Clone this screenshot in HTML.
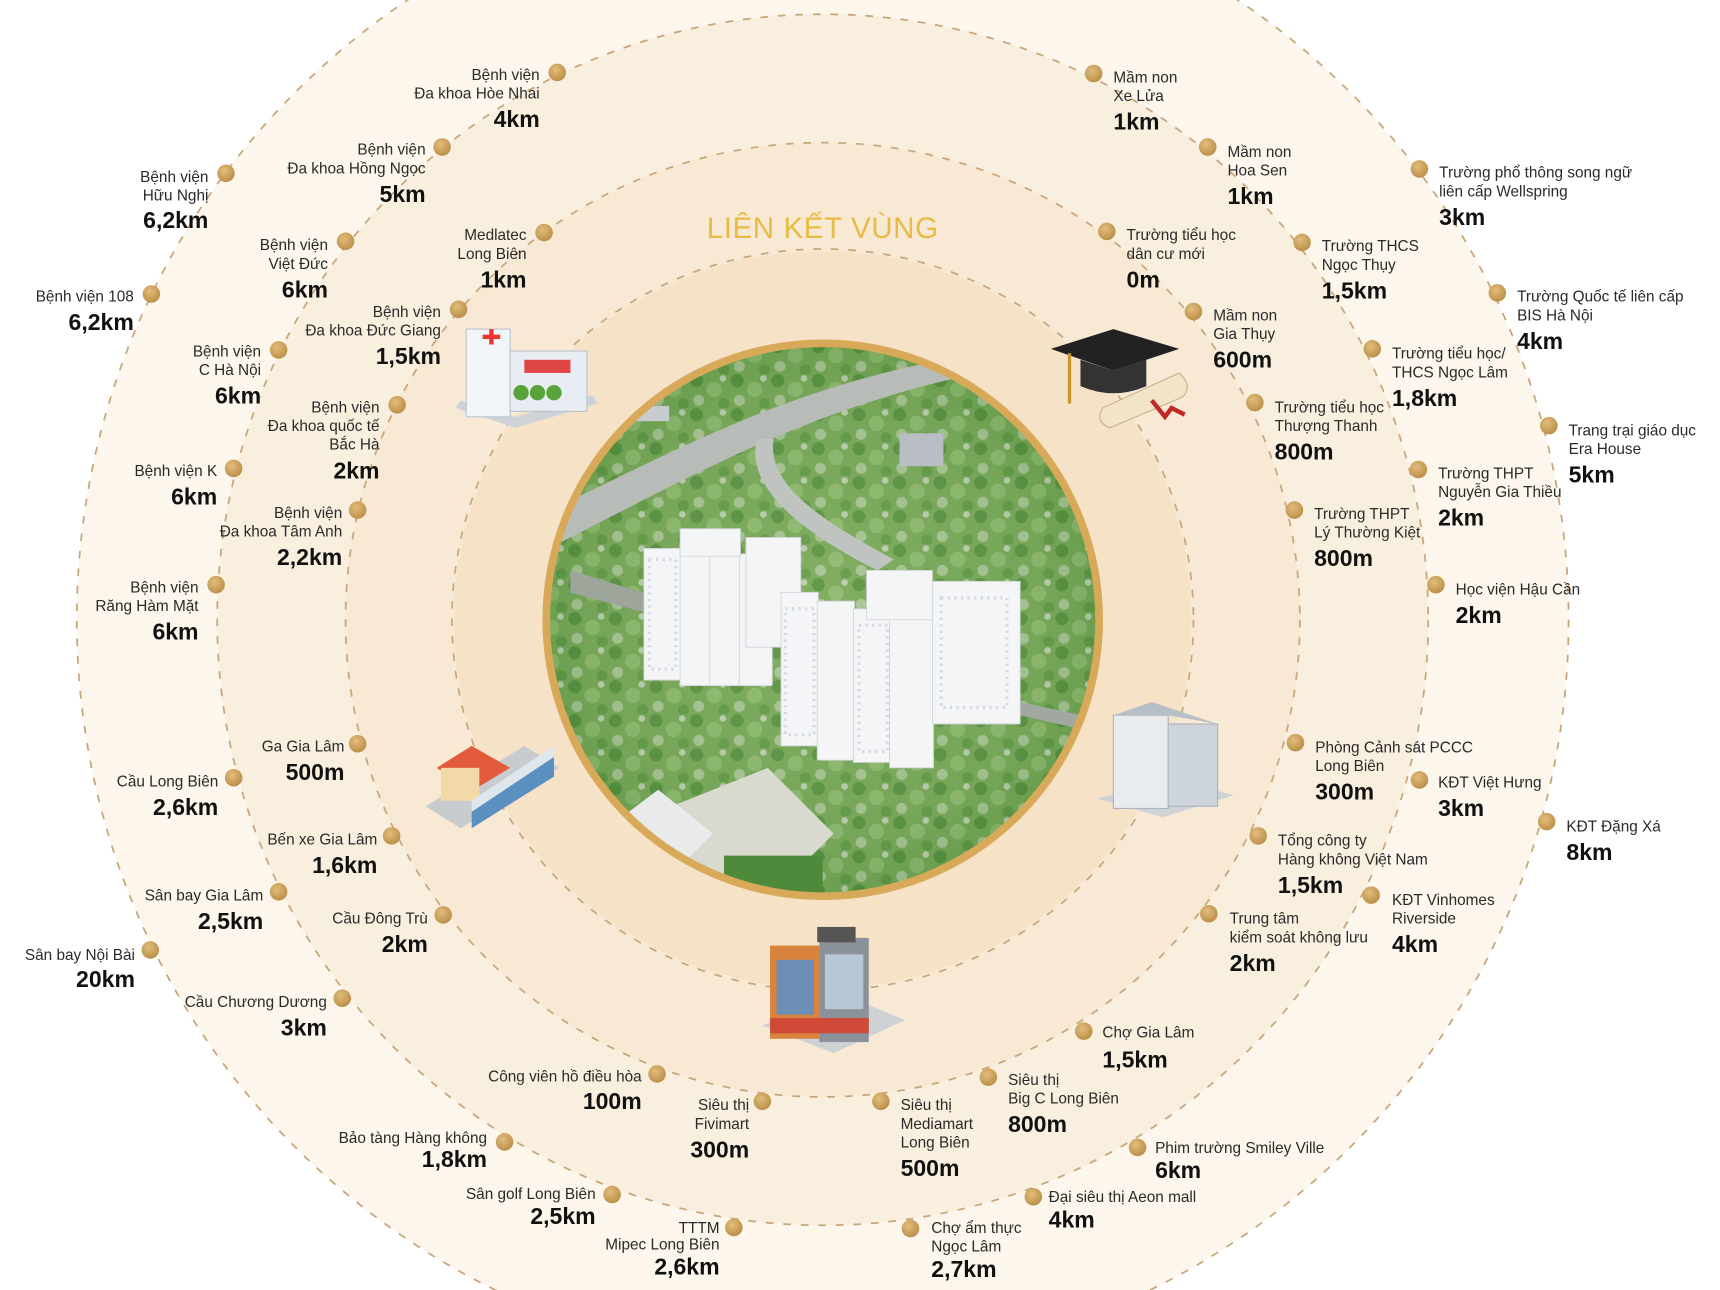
<!DOCTYPE html>
<html><head><meta charset="utf-8">
<style>
html,body{margin:0;padding:0;background:#fff;width:1720px;height:1290px;overflow:hidden;}
svg{display:block;}
.t{font-family:"Liberation Sans",sans-serif;font-size:14px;fill:#2a2a2a;}
.b{font-family:"Liberation Sans",sans-serif;font-size:21px;font-weight:bold;fill:#111;}
.l .t,.l .b{text-anchor:end;}
</style></head>
<body>
<svg width="1720" height="1290" viewBox="0 0 1568 1176" xmlns="http://www.w3.org/2000/svg">
<defs>
<radialGradient id="dg" cx="0.4" cy="0.35" r="0.7"><stop offset="0" stop-color="#e2bd7c"/><stop offset="1" stop-color="#b98c45"/></radialGradient>
<radialGradient id="pg" cx="0.5" cy="0.5" r="0.5"><stop offset="0" stop-color="#8fb870"/><stop offset="0.8" stop-color="#6f9f55"/><stop offset="1" stop-color="#4f8a3c"/></radialGradient>
<pattern id="trees" width="37" height="31" patternUnits="userSpaceOnUse">
<rect width="37" height="31" fill="#7aa95a"/>
<circle cx="6" cy="6" r="6" fill="#4c8838"/><circle cx="22" cy="14" r="7" fill="#9bc27b"/><circle cx="8" cy="24" r="5" fill="#c3d3b4"/>
<circle cx="31" cy="27" r="5" fill="#5a9441"/><circle cx="30" cy="4" r="3" fill="#dfe3de"/>
</pattern>
<clipPath id="cc"><circle cx="750" cy="565" r="250"/></clipPath>
</defs>
<rect width="1568" height="1176" fill="#fff"/>
<circle cx="750" cy="565" r="680" fill="#fcf6ec"/>
<circle cx="750" cy="565" r="552" fill="#f9efdf"/>
<circle cx="750" cy="565" r="435" fill="#f7e9d4"/>
<circle cx="750" cy="565" r="336" fill="#f5e2c7"/>
<g fill="none" stroke="#c9a67a" stroke-width="1.6" stroke-dasharray="7 9">
<circle cx="750" cy="565" r="680"/><circle cx="750" cy="565" r="552"/>
<circle cx="750" cy="565" r="435"/><circle cx="750" cy="565" r="338"/>
</g>
<text x="750" y="217" text-anchor="middle" font-family="Liberation Sans,sans-serif" font-size="27" fill="#e9bb45" letter-spacing="0.5">LIÊN KẾT VÙNG</text>

<g clip-path="url(#cc)">
<rect x="490" y="305" width="520" height="520" fill="url(#trees)"/>
<rect x="490" y="305" width="520" height="520" fill="url(#pg)" opacity="0.4"/>
<path d="M490 470 C600 420 700 360 850 330 L870 345 C720 380 620 440 500 500Z" fill="#b8bcb8"/>
<path d="M690 400 C680 440 720 480 800 520 L815 510 C740 470 700 440 705 400Z" fill="#c0c4c0"/>
<rect x="560" y="370" width="50" height="14" fill="#c8ccd0"/>
<rect x="820" y="395" width="40" height="30" fill="#b8bec4"/>
<path d="M520 520 L650 560 L650 575 L520 540Z" fill="#9ea59b"/>
<path d="M930 640 L1000 655 L1000 668 L930 652Z" fill="#a0a8a0"/>
<path d="M600 740 L700 700 L760 760 L700 820 L560 800Z" fill="#d8dad0"/>
<path d="M560 750 L600 720 L650 760 L620 790Z" fill="#e8ebea"/>
<g fill="#f4f5f7" stroke="#d0d4d8" stroke-width="0.8">
<rect x="587" y="500" width="34" height="120"/><rect x="620" y="495" width="28" height="130"/>
<rect x="647" y="500" width="28" height="125"/><rect x="674" y="505" width="30" height="120"/>
<rect x="620" y="482" width="55" height="25"/><rect x="680" y="490" width="50" height="100"/>
<rect x="712" y="540" width="34" height="140"/><rect x="745" y="548" width="34" height="145"/>
<rect x="778" y="555" width="34" height="140"/><rect x="811" y="560" width="40" height="140"/>
<rect x="790" y="520" width="60" height="45"/><rect x="850" y="530" width="80" height="130"/>
</g>
<g opacity="0.7">
<rect x="592" y="510" width="24" height="100" fill="none" stroke="#c8ced5" stroke-dasharray="2 4" stroke-width="3"/>
<rect x="716" y="555" width="26" height="115" fill="none" stroke="#c8ced5" stroke-dasharray="2 4" stroke-width="3"/>
<rect x="783" y="570" width="26" height="115" fill="none" stroke="#c8ced5" stroke-dasharray="2 4" stroke-width="3"/>
<rect x="858" y="545" width="60" height="100" fill="none" stroke="#c8ced5" stroke-dasharray="2 4" stroke-width="3"/>
</g>
<rect x="660" y="780" width="90" height="50" fill="#4f8a3c"/>
</g>
<circle cx="750" cy="565" r="252" fill="none" stroke="#d9a95a" stroke-width="7"/>

<g>
<path d="M415 372 L470 390 L545 368 L540 360 L470 380 L420 365Z" fill="#cfd3d8"/>
<rect x="425" y="300" width="40" height="80" fill="#f2f5f8" stroke="#b9c3cd"/>
<rect x="465" y="320" width="70" height="55" fill="#e7edf3" stroke="#b9c3cd"/>
<rect x="478" y="328" width="42" height="12" fill="#e04545"/>
<path d="M440 305 h6 v-5 h4 v5 h6 v4 h-6 v5 h-4 v-5 h-6z" fill="#e33"/>
<circle cx="475" cy="358" r="7" fill="#5aa33c"/><circle cx="490" cy="358" r="7" fill="#5aa33c"/><circle cx="505" cy="358" r="7" fill="#5aa33c"/>
</g>
<g>
<path d="M958 318 L1015 300 L1075 318 L1015 338Z" fill="#222"/>
<path d="M985 328 L985 352 Q1015 365 1045 352 L1045 328 L1015 338Z" fill="#333"/>
<path d="M975 322 L975 368" stroke="#c9962a" stroke-width="3"/>
<path d="M1005 372 L1075 340 Q1088 352 1078 362 L1012 390 Q998 385 1005 372Z" fill="#f1e4c8" stroke="#c8b08a"/>
<path d="M1050 365 L1062 380 L1068 372 L1080 378" stroke="#c0282a" stroke-width="4" fill="none"/>
</g>
<g>
<path d="M388 735 L420 755 L510 700 L478 680Z" fill="#c9ccce"/>
<path d="M398 700 L430 680 L465 700 L432 720Z" fill="#e25b3d"/>
<rect x="402" y="700" width="35" height="30" fill="#f4d9a8"/>
<path d="M430 740 L505 690 L505 708 L430 755Z" fill="#5b8fc0"/>
<path d="M430 730 L505 680 L505 690 L430 740Z" fill="#dfe6ee"/>
</g>
<g>
<path d="M1000 728 L1060 745 L1125 725 L1070 710Z" fill="#cfd3d6"/>
<rect x="1015" y="652" width="50" height="85" fill="#e8ecef" stroke="#aab3bb"/>
<rect x="1065" y="660" width="45" height="75" fill="#cdd4db" stroke="#aab3bb"/>
<path d="M1015 652 L1050 640 L1110 660 L1065 652Z" fill="#b6bec6"/>
</g>
<g>
<path d="M695 935 L760 960 L825 930 L765 905Z" fill="#cfd2d4"/>
<rect x="702" y="862" width="45" height="85" fill="#d8833e"/>
<rect x="747" y="855" width="45" height="95" fill="#8a9198"/>
<rect x="745" y="845" width="35" height="14" fill="#555"/>
<rect x="708" y="875" width="34" height="50" fill="#6d8fb5"/>
<rect x="752" y="870" width="35" height="50" fill="#b8c7d6"/>
<rect x="702" y="928" width="90" height="14" fill="#d04a3a"/>
</g>

<g fill="url(#dg)">
<circle cx="508" cy="66" r="8"/><circle cx="403" cy="134" r="8"/><circle cx="206" cy="158" r="8"/>
<circle cx="496" cy="212" r="8"/><circle cx="315" cy="220" r="8"/><circle cx="138" cy="268" r="8"/>
<circle cx="418" cy="282" r="8"/><circle cx="254" cy="319" r="8"/><circle cx="362" cy="369" r="8"/>
<circle cx="213" cy="427" r="8"/><circle cx="326" cy="465" r="8"/><circle cx="197" cy="533" r="8"/>
<circle cx="326" cy="678" r="8"/><circle cx="213" cy="709" r="8"/><circle cx="357" cy="762" r="8"/>
<circle cx="254" cy="813" r="8"/><circle cx="404" cy="834" r="8"/><circle cx="137" cy="866" r="8"/>
<circle cx="312" cy="910" r="8"/><circle cx="599" cy="979" r="8"/><circle cx="460" cy="1041" r="8"/>
<circle cx="558" cy="1089" r="8"/><circle cx="669" cy="1119" r="8"/><circle cx="695" cy="1004" r="8"/>
<circle cx="997" cy="67" r="8"/><circle cx="1101" cy="134" r="8"/><circle cx="1294" cy="154" r="8"/>
<circle cx="1009" cy="211" r="8"/><circle cx="1187" cy="221" r="8"/><circle cx="1365" cy="267" r="8"/>
<circle cx="1088" cy="284" r="8"/><circle cx="1251" cy="318" r="8"/><circle cx="1144" cy="367" r="8"/>
<circle cx="1412" cy="388" r="8"/><circle cx="1293" cy="428" r="8"/><circle cx="1180" cy="465" r="8"/>
<circle cx="1309" cy="533" r="8"/><circle cx="1181" cy="677" r="8"/><circle cx="1294" cy="711" r="8"/>
<circle cx="1410" cy="749" r="8"/><circle cx="1147" cy="762" r="8"/><circle cx="1250" cy="816" r="8"/>
<circle cx="1102" cy="833" r="8"/><circle cx="988" cy="940" r="8"/><circle cx="901" cy="982" r="8"/>
<circle cx="803" cy="1004" r="8"/><circle cx="1037" cy="1046" r="8"/><circle cx="942" cy="1091" r="8"/>
<circle cx="830" cy="1120" r="8"/>
</g>

<g class="l">
<text class="t" x="492" y="73">Bệnh viện</text><text class="t" x="492" y="90">Đa khoa Hòe Nhai</text><text class="b" x="492" y="116">4km</text>
<text class="t" x="388" y="141">Bệnh viện</text><text class="t" x="388" y="158">Đa khoa Hồng Ngọc</text><text class="b" x="388" y="184">5km</text>
<text class="t" x="190" y="166">Bệnh viện</text><text class="t" x="190" y="183">Hữu Nghị</text><text class="b" x="190" y="208">6,2km</text>
<text class="t" x="480" y="219">Medlatec</text><text class="t" x="480" y="236">Long Biên</text><text class="b" x="480" y="262">1km</text>
<text class="t" x="299" y="228">Bệnh viện</text><text class="t" x="299" y="245">Việt Đức</text><text class="b" x="299" y="271">6km</text>
<text class="t" x="122" y="275">Bệnh viện 108</text><text class="b" x="122" y="301">6,2km</text>
<text class="t" x="402" y="289">Bệnh viện</text><text class="t" x="402" y="306">Đa khoa Đức Giang</text><text class="b" x="402" y="332">1,5km</text>
<text class="t" x="238" y="325">Bệnh viện</text><text class="t" x="238" y="342">C Hà Nội</text><text class="b" x="238" y="368">6km</text>
<text class="t" x="346" y="376">Bệnh viện</text><text class="t" x="346" y="393">Đa khoa quốc tế</text><text class="t" x="346" y="410">Bắc Hà</text><text class="b" x="346" y="436">2km</text>
<text class="t" x="198" y="434">Bệnh viện K</text><text class="b" x="198" y="460">6km</text>
<text class="t" x="312" y="472">Bệnh viện</text><text class="t" x="312" y="489">Đa khoa Tâm Anh</text><text class="b" x="312" y="515">2,2km</text>
<text class="t" x="181" y="540">Bệnh viện</text><text class="t" x="181" y="557">Răng Hàm Mặt</text><text class="b" x="181" y="583">6km</text>
<text class="t" x="314" y="685">Ga Gia Lâm</text><text class="b" x="314" y="711">500m</text>
<text class="t" x="199" y="717">Cầu Long Biên</text><text class="b" x="199" y="743">2,6km</text>
<text class="t" x="344" y="770">Bến xe Gia Lâm</text><text class="b" x="344" y="796">1,6km</text>
<text class="t" x="240" y="821">Sân bay Gia Lâm</text><text class="b" x="240" y="847">2,5km</text>
<text class="t" x="390" y="842">Cầu Đông Trù</text><text class="b" x="390" y="868">2km</text>
<text class="t" x="123" y="875">Sân bay Nội Bài</text><text class="b" x="123" y="900">20km</text>
<text class="t" x="298" y="918">Cầu Chương Dương</text><text class="b" x="298" y="944">3km</text>
<text class="t" x="585" y="986">Công viên hồ điều hòa</text><text class="b" x="585" y="1011">100m</text>
<text class="t" x="444" y="1042">Bảo tàng Hàng không</text><text class="b" x="444" y="1064">1,8km</text>
<text class="t" x="543" y="1093">Sân golf Long Biên</text><text class="b" x="543" y="1116">2,5km</text>
<text class="t" x="656" y="1124">TTTM</text><text class="t" x="656" y="1139">Mipec Long Biên</text><text class="b" x="656" y="1162">2,6km</text>
<text class="t" x="683" y="1012">Siêu thị</text><text class="t" x="683" y="1029">Fivimart</text><text class="b" x="683" y="1055">300m</text>
</g>
<g>
<text class="t" x="1015" y="75">Mầm non</text><text class="t" x="1015" y="92">Xe Lửa</text><text class="b" x="1015" y="118">1km</text>
<text class="t" x="1119" y="143">Mầm non</text><text class="t" x="1119" y="160">Hoa Sen</text><text class="b" x="1119" y="186">1km</text>
<text class="t" x="1312" y="162">Trường phổ thông song ngữ</text><text class="t" x="1312" y="179">liên cấp Wellspring</text><text class="b" x="1312" y="205">3km</text>
<text class="t" x="1027" y="219">Trường tiểu học</text><text class="t" x="1027" y="236">dân cư mới</text><text class="b" x="1027" y="262">0m</text>
<text class="t" x="1205" y="229">Trường THCS</text><text class="t" x="1205" y="246">Ngọc Thụy</text><text class="b" x="1205" y="272">1,5km</text>
<text class="t" x="1383" y="275">Trường Quốc tế liên cấp</text><text class="t" x="1383" y="292">BIS Hà Nội</text><text class="b" x="1383" y="318">4km</text>
<text class="t" x="1106" y="292">Mầm non</text><text class="t" x="1106" y="309">Gia Thụy</text><text class="b" x="1106" y="335">600m</text>
<text class="t" x="1269" y="327">Trường tiểu học/</text><text class="t" x="1269" y="344">THCS Ngọc Lâm</text><text class="b" x="1269" y="370">1,8km</text>
<text class="t" x="1162" y="376">Trường tiểu học</text><text class="t" x="1162" y="393">Thượng Thanh</text><text class="b" x="1162" y="419">800m</text>
<text class="t" x="1430" y="397">Trang trại giáo dục</text><text class="t" x="1430" y="414">Era House</text><text class="b" x="1430" y="440">5km</text>
<text class="t" x="1311" y="436">Trường THPT</text><text class="t" x="1311" y="453">Nguyễn Gia Thiều</text><text class="b" x="1311" y="479">2km</text>
<text class="t" x="1198" y="473">Trường THPT</text><text class="t" x="1198" y="490">Lý Thường Kiệt</text><text class="b" x="1198" y="516">800m</text>
<text class="t" x="1327" y="542">Học viện Hậu Cần</text><text class="b" x="1327" y="568">2km</text>
<text class="t" x="1199" y="686">Phòng Cảnh sát PCCC</text><text class="t" x="1199" y="703">Long Biên</text><text class="b" x="1199" y="729">300m</text>
<text class="t" x="1311" y="718">KĐT Việt Hưng</text><text class="b" x="1311" y="744">3km</text>
<text class="t" x="1428" y="758">KĐT Đặng Xá</text><text class="b" x="1428" y="784">8km</text>
<text class="t" x="1165" y="771">Tổng công ty</text><text class="t" x="1165" y="788">Hàng không Việt Nam</text><text class="b" x="1165" y="814">1,5km</text>
<text class="t" x="1269" y="825">KĐT Vinhomes</text><text class="t" x="1269" y="842">Riverside</text><text class="b" x="1269" y="868">4km</text>
<text class="t" x="1121" y="842">Trung tâm</text><text class="t" x="1121" y="859">kiểm soát không lưu</text><text class="b" x="1121" y="885">2km</text>
<text class="t" x="1005" y="946">Chợ Gia Lâm</text><text class="b" x="1005" y="973">1,5km</text>
<text class="t" x="919" y="989">Siêu thị</text><text class="t" x="919" y="1006">Big C Long Biên</text><text class="b" x="919" y="1032">800m</text>
<text class="t" x="821" y="1012">Siêu thị</text><text class="t" x="821" y="1029">Mediamart</text><text class="t" x="821" y="1046">Long Biên</text><text class="b" x="821" y="1072">500m</text>
<text class="t" x="1053" y="1051">Phim trường Smiley Ville</text><text class="b" x="1053" y="1074">6km</text>
<text class="t" x="956" y="1096">Đại siêu thị Aeon mall</text><text class="b" x="956" y="1119">4km</text>
<text class="t" x="849" y="1124">Chợ ẩm thực</text><text class="t" x="849" y="1141">Ngọc Lâm</text><text class="b" x="849" y="1164">2,7km</text>
</g>
</svg>
</body></html>
